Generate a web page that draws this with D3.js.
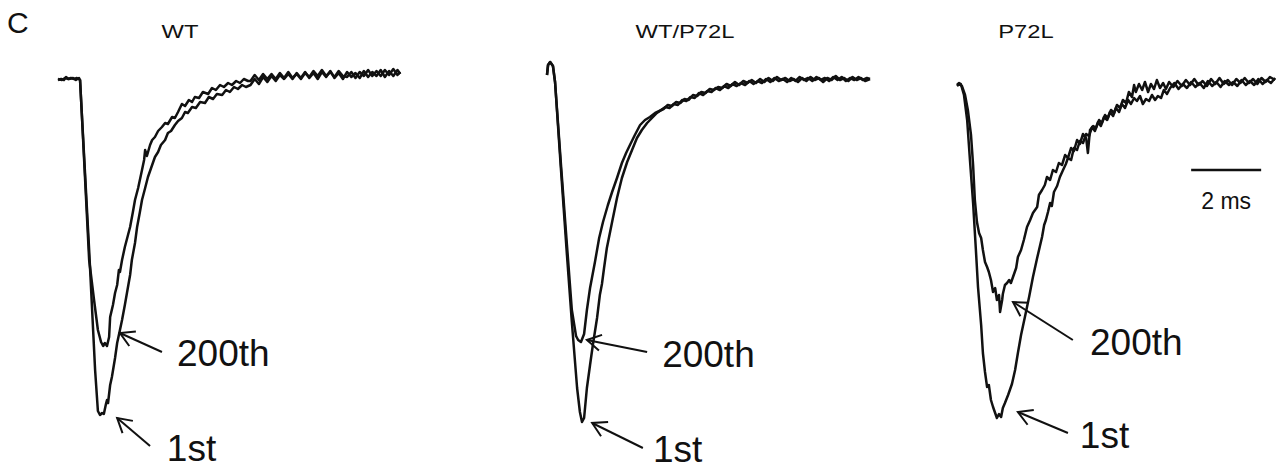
<!DOCTYPE html>
<html>
<head>
<meta charset="utf-8">
<script src="https://cdn.jsdelivr.net/npm/d3@7"></script>
<style>
  body { margin: 0; background: #fff; }
  svg { display: block; }
</style>
</head>
<body>
<div id="chart"></div>
<script>
// time in ms, current in nA (no amplitude bar in the figure, so arbitrary units)
const panelNames = ["WT", "WT/P72L", "P72L"];
const pulseLabels = ["200th", "1st"];
const scaleBarMs = 2;

const wt1st = [
  [0,0],[0.09,0.01],[0.17,0],[0.23,0.03],[0.29,0.01],[0.37,0.02],[0.46,0.01],[0.54,0.02],[0.63,0],
  [0.66,-0.2],[0.89,-1.7],[1.06,-2.9],[1.14,-3.31],[1.2,-3.35],[1.26,-3.33],[1.31,-3.34],[1.37,-3.24],
  [1.4,-3.2],[1.43,-3.23],[1.49,-3.05],[1.54,-2.97],[1.63,-2.78],[1.69,-2.63],[1.77,-2.5],[1.83,-2.4],
  [1.91,-2.25],[1.97,-2.13],[2.06,-1.95],[2.11,-1.8],[2.2,-1.63],[2.26,-1.47],[2.34,-1.32],[2.4,-1.2],
  [2.49,-1.08],[2.57,-0.97],[2.66,-0.88],[2.77,-0.77],[2.86,-0.72],[2.94,-0.65],[3.06,-0.6],[3.14,-0.53],
  [3.23,-0.51],[3.34,-0.45],[3.43,-0.41],[3.54,-0.38],[3.63,-0.32],[3.71,-0.33],[3.83,-0.27],[3.94,-0.28],
  [4.06,-0.22],[4.2,-0.23],[4.31,-0.17],[4.43,-0.19],[4.54,-0.14],[4.69,-0.15],[4.8,-0.1],[4.91,-0.12],
  [5.03,-0.07],[5.14,-0.09],[5.26,-0.05],[5.37,-0.07],
  [5.5,-0.05],[5.62,0.01],[5.74,-0.04],[5.86,0.03],[5.98,-0.02],[6.1,0.04],[6.22,-0.01],[6.34,0.05],[6.46,0.01],
  [6.58,0.06],[6.7,0.01],[6.82,0.07],[6.94,0.02],[7.06,0.08],[7.18,0.02],[7.3,0.07],[7.42,0.01],[7.54,0.08],
  [7.66,0.03],[7.78,0.09],[7.9,0.02],[8.02,0.07],[8.14,0.01],[8.26,0.08],[8.38,0.03],[8.5,0.07],[8.62,0.02],
  [8.74,0.09],[8.86,0.03],[8.98,0.08],[9.1,0.04],[9.22,0.1],[9.34,0.03],[9.46,0.09],[9.58,0.04],[9.7,0.1],[9.78,0.06]
];

const wt200th = [
  [0,0.01],[0.11,0],[0.2,0.02],[0.31,0.01],[0.43,0.02],[0.51,0],[0.6,0.02],[0.63,0],
  [0.66,-0.2],[0.89,-1.8],[1.03,-2.2],[1.14,-2.5],[1.23,-2.62],[1.29,-2.66],[1.34,-2.63],[1.4,-2.66],[1.46,-2.57],
  [1.49,-2.37],[1.57,-2.25],[1.63,-2.13],[1.69,-2.05],[1.74,-1.9],[1.77,-1.92],[1.83,-1.8],[1.91,-1.67],
  [2.0,-1.55],[2.06,-1.47],[2.14,-1.32],[2.2,-1.2],[2.29,-1.08],[2.4,-0.9],[2.46,-0.8],[2.49,-0.7],[2.54,-0.76],
  [2.63,-0.65],[2.69,-0.6],[2.77,-0.57],[2.86,-0.51],[2.97,-0.47],[3.06,-0.43],[3.14,-0.44],[3.26,-0.37],
  [3.34,-0.38],[3.43,-0.32],[3.54,-0.24],[3.63,-0.26],[3.74,-0.2],[3.83,-0.22],[3.91,-0.17],[4.03,-0.18],
  [4.14,-0.12],[4.29,-0.14],[4.4,-0.08],[4.51,-0.1],[4.63,-0.05],[4.74,-0.07],[4.86,-0.03],[4.97,-0.05],
  [5.09,-0.01],[5.2,-0.03],[5.31,0.01],[5.43,-0.01],
  [5.5,-0.01],[5.62,0.05],[5.74,0],[5.86,0.06],[5.98,0.01],[6.1,0.06],[6.22,0.01],[6.34,0.07],[6.46,0.02],
  [6.58,0.08],[6.7,0.02],[6.82,0.06],[6.94,0.01],[7.06,0.07],[7.18,0.03],[7.3,0.09],[7.42,0.04],[7.54,0.1],
  [7.66,0.04],[7.78,0.08],[7.9,0.03],[8.02,0.09],[8.14,0.04],[8.26,0.03],[8.38,0.08],[8.5,0.02],[8.62,0.08],
  [8.74,0.04],[8.86,0.1],[8.98,0.04],[9.1,0.09],[9.22,0.04],[9.34,0.1],[9.46,0.05],[9.58,0.11],[9.7,0.05],[9.78,0.08]
];

const het1st = [
  [0,0.05],[0.03,0.15],[0.09,0.18],[0.17,0.14],[0.23,-0.02],[0.4,-0.9],[0.57,-1.75],[0.71,-2.42],
  [0.86,-3.08],[0.94,-3.32],[1.0,-3.42],[1.06,-3.38],[1.14,-3.08],[1.23,-2.85],[1.31,-2.65],[1.43,-2.38],
  [1.51,-2.15],[1.57,-2.04],[1.63,-1.88],[1.71,-1.68],[1.86,-1.42],[2.0,-1.18],[2.14,-0.98],[2.29,-0.82],
  [2.43,-0.7],[2.57,-0.58],[2.71,-0.5],[2.86,-0.43],[3.0,-0.38],[3.14,-0.33],
  [3.26,-0.3],[3.38,-0.27],[3.5,-0.28],[3.62,-0.24],[3.74,-0.25],[3.86,-0.2],[3.98,-0.21],[4.1,-0.17],
  [4.22,-0.18],[4.34,-0.13],[4.46,-0.15],[4.58,-0.11],[4.7,-0.12],[4.82,-0.08],[4.94,-0.1],[5.06,-0.06],
  [5.18,-0.08],[5.3,-0.04],[5.42,-0.06],[5.54,-0.03],[5.66,-0.05],[5.78,-0.01],[5.9,-0.04],[6.02,-0.01],
  [6.14,-0.03],[6.26,0.01],[6.38,-0.02],[6.5,0.02],[6.62,-0.01],[6.74,0.01],[6.86,-0.02],[6.98,0.02],
  [7.1,-0.01],[7.22,0.03],[7.34,0],[7.46,0.02],[7.58,-0.01],[7.7,0.03],[7.82,0],[7.94,0.02],[8.06,-0.01],
  [8.18,0.03],[8.3,0],[8.42,0.03],[8.54,-0.01],[8.66,0.02],[8.78,0],[8.9,0.03],[9.02,0],[9.14,0.02],[9.23,0.01]
];

const het200th = [
  [0,0.05],[0.03,0.15],[0.09,0.18],[0.17,0.14],[0.23,-0.02],[0.4,-0.85],[0.57,-1.65],[0.71,-2.3],
  [0.83,-2.56],[0.89,-2.6],[0.97,-2.62],[1.06,-2.54],[1.14,-2.3],[1.23,-2.08],[1.37,-1.82],[1.49,-1.58],
  [1.6,-1.42],[1.74,-1.25],[1.86,-1.12],[2.0,-0.98],[2.14,-0.83],[2.26,-0.73],[2.37,-0.65],[2.51,-0.55],
  [2.66,-0.45],[2.8,-0.4],[2.94,-0.37],[3.09,-0.33],
  [3.21,-0.31],[3.33,-0.29],[3.45,-0.25],[3.57,-0.26],[3.69,-0.22],[3.81,-0.23],[3.93,-0.19],[4.05,-0.2],
  [4.17,-0.15],[4.29,-0.16],[4.41,-0.12],[4.53,-0.13],[4.65,-0.09],[4.77,-0.1],[4.89,-0.07],[5.01,-0.08],
  [5.13,-0.04],[5.25,-0.06],[5.37,-0.02],[5.49,-0.05],[5.61,-0.01],[5.73,-0.03],[5.85,0],[5.97,-0.03],
  [6.09,0.01],[6.21,-0.02],[6.33,0.02],[6.45,-0.01],[6.57,0.03],[6.69,0],[6.81,0.02],[6.93,-0.01],
  [7.05,0.01],[7.17,-0.02],[7.29,0.02],[7.41,-0.01],[7.53,0.03],[7.65,0],[7.77,0.02],[7.89,-0.02],
  [8.01,0.02],[8.13,0],[8.25,0.04],[8.37,0],[8.49,0.02],[8.61,-0.01],[8.73,0.03],[8.85,0],[8.97,0.02],
  [9.09,-0.01],[9.23,0.01]
];

const mut1st = [
  [0,-0.05],[0.06,-0.03],[0.11,-0.04],[0.2,-0.15],[0.29,-0.4],[0.37,-0.8],[0.46,-1.23],[0.54,-1.7],
  [0.6,-2.07],[0.69,-2.45],[0.74,-2.73],[0.8,-2.92],[0.86,-3.07],[0.91,-3.05],[0.97,-3.2],[1.03,-3.27],
  [1.09,-3.33],[1.14,-3.38],[1.2,-3.34],[1.26,-3.37],[1.31,-3.28],[1.37,-3.23],[1.46,-3.15],[1.51,-3.1],
  [1.57,-3.04],[1.66,-2.9],[1.74,-2.73],[1.83,-2.55],[1.94,-2.37],[2.06,-2.17],[2.17,-1.97],[2.29,-1.78],
  [2.37,-1.66],[2.43,-1.57],[2.49,-1.45],[2.54,-1.4],[2.6,-1.32],[2.66,-1.23],[2.71,-1.26],[2.77,-1.12],
  [2.86,-1.06],[2.94,-0.97],[3.03,-0.9],[3.11,-0.84],[3.17,-0.78],[3.26,-0.8],[3.34,-0.68],[3.43,-0.7],
  [3.51,-0.61],[3.6,-0.63],[3.69,-0.54],[3.77,-0.56],[3.86,-0.47],[3.94,-0.51],[4.03,-0.42],[4.11,-0.46],
  [4.2,-0.37],[4.29,-0.4],[4.37,-0.32],[4.46,-0.36],[4.54,-0.28],[4.63,-0.32],[4.71,-0.24],[4.8,-0.28],
  [4.89,-0.2],[4.97,-0.24],[5.06,-0.18],[5.14,-0.21],[5.23,-0.16],[5.31,-0.24],[5.4,-0.19],[5.49,-0.21],
  [5.57,-0.15],[5.66,-0.2],[5.74,-0.16],[5.83,-0.18],[5.91,-0.1],[6.0,-0.14],
  [6.09,-0.08],[6.21,-0.03],[6.33,-0.09],[6.45,-0.04],[6.57,-0.08],[6.69,-0.02],[6.81,-0.07],[6.93,-0.03],
  [7.05,-0.08],[7.17,-0.01],[7.29,-0.06],[7.41,-0.02],[7.53,-0.07],[7.65,-0.01],[7.77,-0.05],[7.89,-0.02],
  [8.01,-0.06],[8.13,0],[8.25,-0.05],[8.37,-0.01],[8.49,-0.05],[8.61,0.01],[8.73,-0.04],[8.85,0],
  [8.97,-0.03],[9.09,0.02]
];

const mut200th = [
  [0,-0.06],[0.06,-0.04],[0.14,-0.06],[0.23,-0.15],[0.31,-0.3],[0.4,-0.55],[0.46,-0.85],[0.51,-1.2],
  [0.57,-1.42],[0.63,-1.53],[0.69,-1.58],[0.74,-1.7],[0.8,-1.82],[0.86,-1.87],[0.91,-1.92],[0.97,-2.0],
  [1.03,-2.12],[1.09,-2.08],[1.14,-2.2],[1.2,-2.15],[1.23,-2.32],[1.29,-2.2],[1.31,-2.14],[1.37,-2.05],
  [1.43,-2.03],[1.49,-2.0],[1.54,-2.03],[1.6,-1.97],[1.69,-1.88],[1.74,-1.77],[1.83,-1.7],[1.91,-1.6],
  [2.0,-1.47],[2.09,-1.4],[2.17,-1.33],[2.29,-1.27],[2.34,-1.15],[2.43,-1.1],[2.51,-1.05],[2.57,-0.97],
  [2.66,-1.0],[2.74,-0.9],[2.83,-0.92],[2.91,-0.83],[3.0,-0.85],[3.09,-0.75],[3.17,-0.78],[3.26,-0.68],
  [3.34,-0.71],[3.43,-0.6],[3.51,-0.64],[3.6,-0.54],[3.69,-0.58],[3.74,-0.73],[3.8,-0.5],[3.89,-0.46],
  [3.97,-0.48],[4.06,-0.4],[4.14,-0.43],[4.23,-0.35],[4.31,-0.38],[4.4,-0.3],[4.49,-0.33],[4.57,-0.25],
  [4.66,-0.28],[4.74,-0.2],[4.83,-0.23],[4.91,-0.12],[5.0,-0.17],[5.06,-0.05],[5.11,-0.12],[5.2,-0.04],
  [5.29,-0.1],[5.37,-0.02],[5.46,-0.12],[5.54,-0.04],[5.63,-0.09],[5.71,0],[5.8,-0.08],[5.89,-0.03],
  [5.97,-0.09],[6.06,-0.02],
  [6.18,-0.07],[6.3,-0.01],[6.42,-0.06],[6.54,0],[6.66,-0.05],[6.78,0.01],[6.9,-0.05],[7.02,-0.01],
  [7.14,-0.06],[7.26,0.01],[7.38,-0.04],[7.5,0.02],[7.62,-0.04],[7.74,0],[7.86,-0.05],[7.98,0.01],
  [8.1,-0.03],[8.22,0.02],[8.34,-0.03],[8.46,0.01],[8.58,-0.04],[8.7,0.02],[8.82,-0.02],[8.94,0.03],[9.09,0]
];

const traces = [[wt1st, wt200th], [het1st, het200th], [mut1st, mut200th]];

// layout
const WIDTH = 1283, HEIGHT = 471;
const PANEL_LEFT = [58, 547, 957];
const PANEL_WIDTH = 350; // 10 ms
const TITLE_X = [180, 685, 1026];
const TITLE_Y = 38;
// arrow annotations in panel data coords: tip, tail, text
const ARROWS = [
  [{ tip: [1.77, -2.53], tail: [2.97, -2.72], text: [3.4, -2.86] },
   { tip: [1.69, -3.38], tail: [2.63, -3.66], text: [3.11, -3.81] }],
  [{ tip: [1.14, -2.6], tail: [2.86, -2.72], text: [3.29, -2.87] },
   { tip: [1.29, -3.43], tail: [2.74, -3.68], text: [3.03, -3.82] }],
  [{ tip: [1.6, -2.22], tail: [3.31, -2.6], text: [3.8, -2.75] },
   { tip: [1.74, -3.32], tail: [3.17, -3.53], text: [3.51, -3.68] }]
];
const FONT = "'Liberation Sans', Arial, Helvetica, sans-serif";
const INK = "#111";

const svg = d3.select("#chart")
  .append("svg")
  .attr("width", WIDTH)
  .attr("height", HEIGHT);

svg.append("rect").attr("width", WIDTH).attr("height", HEIGHT).attr("fill", "#fff");

const yScale = d3.scaleLinear()
  .domain([0, -3.35])
  .range([80, 415]);

svg.append("text")
  .attr("x", 7)
  .attr("y", 33)
  .attr("font-family", FONT)
  .attr("font-size", 30)
  .attr("fill", INK)
  .text("C");

panelNames.forEach((name, i) => {
  const xScale = d3.scaleLinear()
    .domain([0, 10])
    .range([PANEL_LEFT[i], PANEL_LEFT[i] + PANEL_WIDTH]);

  const line = d3.line()
    .x(d => xScale(d[0]))
    .y(d => yScale(d[1]));

  const g = svg.append("g");

  const title = g.append("text")
    .attr("x", TITLE_X[i])
    .attr("y", TITLE_Y)
    .attr("text-anchor", "middle")
    .attr("font-family", FONT)
    .attr("font-size", 19)
    .attr("fill", INK)
    .text(name);
  // the titles in the figure are set wider than normal
  title.attr("textLength", title.node().getComputedTextLength() * 1.25)
    .attr("lengthAdjust", "spacingAndGlyphs");

  g.selectAll("path.trace")
    .data(traces[i])
    .enter()
    .append("path")
    .attr("class", "trace")
    .attr("d", line)
    .attr("fill", "none")
    .attr("stroke", INK)
    .attr("stroke-width", 2.5)
    .attr("stroke-linejoin", "round");

  ARROWS[i].forEach((a, k) => {
    const tx = xScale(a.tip[0]), ty = yScale(a.tip[1]);
    const sx = xScale(a.tail[0]), sy = yScale(a.tail[1]);
    const ang = Math.atan2(sy - ty, sx - tx);
    const len = 16, spread = Math.PI / 6;
    const head = [
      [tx + len * Math.cos(ang - spread), ty + len * Math.sin(ang - spread)],
      [tx, ty],
      [tx + len * Math.cos(ang + spread), ty + len * Math.sin(ang + spread)]
    ];
    g.append("line")
      .attr("x1", sx).attr("y1", sy)
      .attr("x2", tx).attr("y2", ty)
      .attr("stroke", INK)
      .attr("stroke-width", 2);
    g.append("path")
      .attr("d", d3.line()(head))
      .attr("fill", "none")
      .attr("stroke", INK)
      .attr("stroke-width", 2);
    g.append("text")
      .attr("x", xScale(a.text[0]))
      .attr("y", yScale(a.text[1]))
      .attr("font-family", FONT)
      .attr("font-size", 37)
      .attr("fill", INK)
      .text(pulseLabels[k]);
  });

  // scale bar sits in the last panel
  if (i === panelNames.length - 1) {
    const t0 = 6.69;
    g.append("line")
      .attr("x1", xScale(t0))
      .attr("x2", xScale(t0 + scaleBarMs))
      .attr("y1", yScale(-0.9))
      .attr("y2", yScale(-0.9))
      .attr("stroke", INK)
      .attr("stroke-width", 2.5);
    g.append("text")
      .attr("x", xScale(t0 + scaleBarMs / 2))
      .attr("y", yScale(-1.29))
      .attr("text-anchor", "middle")
      .attr("font-family", FONT)
      .attr("font-size", 23)
      .attr("fill", INK)
      .text(`${scaleBarMs} ms`);
  }
});
</script>
</body>
</html>
